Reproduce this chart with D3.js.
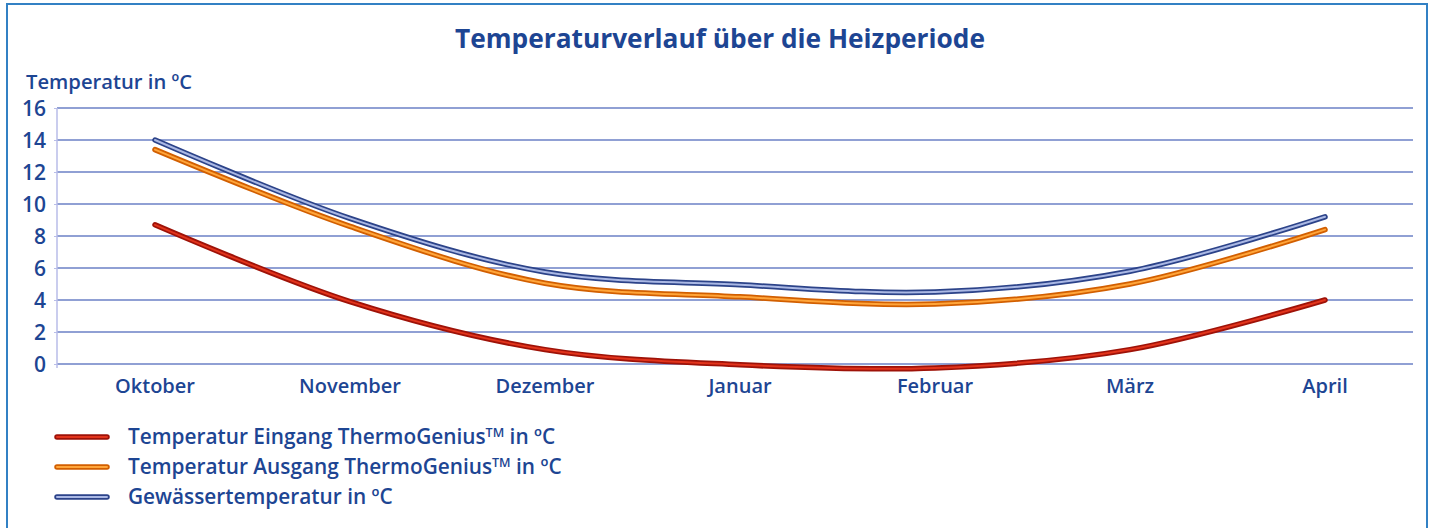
<!DOCTYPE html>
<html>
<head>
<meta charset="utf-8">
<script src="https://cdn.jsdelivr.net/npm/d3@7"></script>
<style>
  body { margin: 0; background: #fff; }
  text { font-family: "Open Sans", "DejaVu Sans", sans-serif; fill: #1d4593; font-weight: 600; }
</style>
</head>
<body>
<svg id="chart"></svg>
<script>
const width = 1433, height = 528;

// data
const months = ["Oktober", "November", "Dezember", "Januar", "Februar", "März", "April"];
const eingang = [8.7, 3.9, 0.9, -0.05, -0.25, 0.9, 4.0];
const ausgang = [13.4, 8.6, 5.05, 4.2, 3.75, 5.0, 8.4];
const gewaesser = [14.0, 9.1, 5.75, 4.95, 4.5, 5.8, 9.2];
const yTicks = [0, 2, 4, 6, 8, 10, 12, 14, 16];

const series = [
  { name: "Temperatur Eingang ThermoGenius", tm: true, values: eingang, outer: "#9e1208", inner: "#e2341c" },
  { name: "Temperatur Ausgang ThermoGenius", tm: true, values: ausgang, outer: "#d25f00", inner: "#ffa53a" },
  { name: "Gewässertemperatur in ºC", tm: false, values: gewaesser, outer: "#2c4389", inner: "#aab8e4" }
];

const svg = d3.select("#chart")
  .attr("width", width)
  .attr("height", height);

// outer frame
svg.append("rect")
  .attr("x", 7).attr("y", 4)
  .attr("width", 1420).attr("height", 560)
  .attr("fill", "none")
  .attr("stroke", "#3281c4")
  .attr("stroke-width", 2);

const xScale = d3.scalePoint().domain(months).range([155, 1325]);
const yScale = d3.scaleLinear().domain([0, 16]).range([364, 108]);

// grid lines
svg.append("g")
  .selectAll("line")
  .data(yTicks)
  .join("line")
  .attr("x1", 57).attr("x2", 1413)
  .attr("y1", d => yScale(d)).attr("y2", d => yScale(d))
  .attr("stroke", "#6b80c6")
  .attr("stroke-width", 1.5);

// y axis
const yAxis = svg.append("g")
  .attr("transform", "translate(57,0)")
  .call(d3.axisLeft(yScale).tickValues(yTicks).tickSize(3).tickPadding(8));
yAxis.select(".domain").attr("stroke", "#b9bde8").attr("stroke-width", 1.5)
  .attr("d", "M0," + yScale(16) + "V" + (yScale(0) + 4));
yAxis.selectAll(".tick line").attr("stroke", "#b9bde8");
yAxis.selectAll(".tick text")
  .style("font-size", "21px")
  .style("font-family", "'Open Sans', sans-serif")
  .style("font-weight", "600")
  .attr("fill", "#1d4593")
  .attr("dy", "0.36em");

// x labels
svg.append("g")
  .selectAll("text")
  .data(months)
  .join("text")
  .attr("x", d => xScale(d))
  .attr("y", 393)
  .attr("text-anchor", "middle")
  .style("font-size", "20px")
  .text(d => d);

// title + axis title
svg.append("text")
  .attr("x", 720).attr("y", 48)
  .attr("text-anchor", "middle")
  .attr("textLength", 530)
  .attr("lengthAdjust", "spacingAndGlyphs")
  .style("font-size", "27px")
  .style("font-weight", "bold")
  .text("Temperaturverlauf über die Heizperiode");

svg.append("text")
  .attr("x", 26).attr("y", 89)
  .attr("textLength", 166)
  .attr("lengthAdjust", "spacingAndGlyphs")
  .style("font-size", "20px")
  .text("Temperatur in ºC");

// lines, drawn as a dark tube with a light core
const line = d3.line()
  .x((d, i) => xScale(months[i]))
  .y(d => yScale(d))
  .curve(d3.curveCatmullRom.alpha(0.5));

series.forEach(s => {
  svg.append("path")
    .attr("d", line(s.values))
    .attr("fill", "none")
    .attr("stroke", s.outer)
    .attr("stroke-width", 5.5)
    .attr("stroke-linecap", "round");
  svg.append("path")
    .attr("d", line(s.values))
    .attr("fill", "none")
    .attr("stroke", s.inner)
    .attr("stroke-width", 2)
    .attr("stroke-linecap", "round");
});

// legend
const legend = svg.append("g");
series.forEach((s, i) => {
  const y = 437 + i * 30;
  legend.append("line")
    .attr("x1", 57).attr("x2", 107).attr("y1", y).attr("y2", y)
    .attr("stroke", s.outer).attr("stroke-width", 5.5).attr("stroke-linecap", "round");
  legend.append("line")
    .attr("x1", 57).attr("x2", 107).attr("y1", y).attr("y2", y)
    .attr("stroke", s.inner).attr("stroke-width", 2).attr("stroke-linecap", "round");
  const t = legend.append("text")
    .attr("x", 128).attr("y", y + 7)
    .style("font-size", "20.8px");
  t.append("tspan").text(s.name);
  if (s.tm) {
    t.append("tspan").attr("dy", -7).style("font-size", "12.5px").text("TM");
    t.append("tspan").attr("dy", 7).text(" in ºC");
  }
});
</script>
</body>
</html>
